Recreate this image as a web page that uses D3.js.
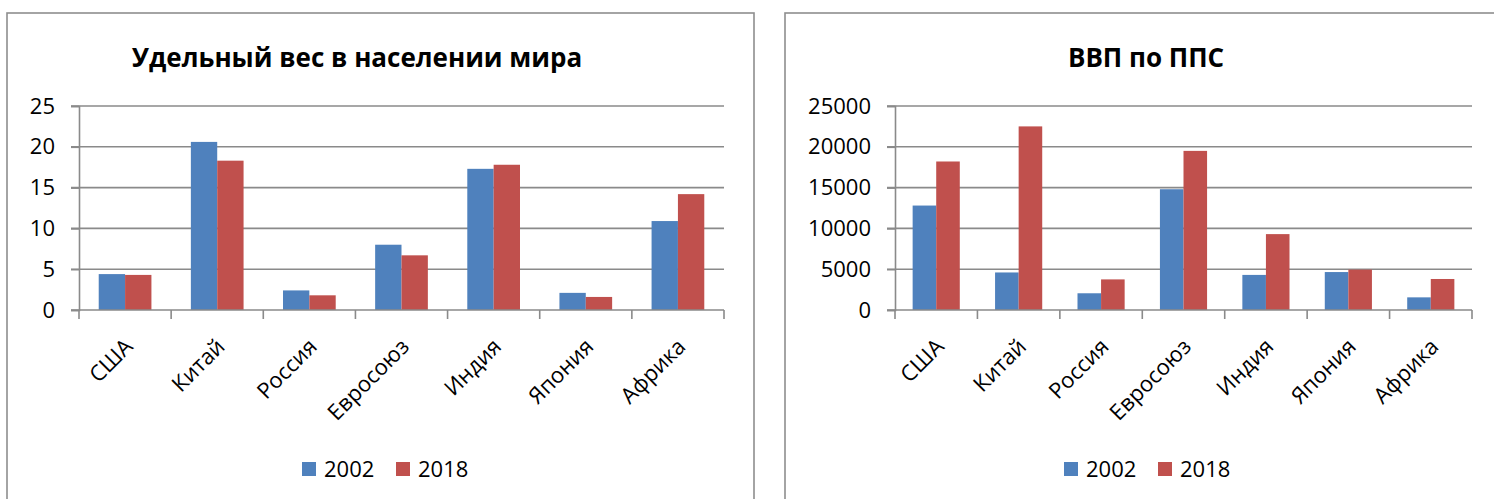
<!DOCTYPE html>
<html><head><meta charset="utf-8">
<script src="https://cdn.jsdelivr.net/npm/d3@7"></script>
<style>
html,body{margin:0;padding:0;background:#fff;}
svg{display:block;font-family:"Open Sans","Noto Sans",sans-serif;}
</style></head>
<body>
<svg id="c" width="1494" height="499"></svg>
<script>
const categories = ["США","Китай","Россия","Евросоюз","Индия","Япония","Африка"];
const seriesNames = ["2002","2018"];
const popShare2002 = [4.4, 20.6, 2.4, 8.0, 17.3, 2.1, 10.9];
const popShare2018 = [4.3, 18.3, 1.8, 6.7, 17.8, 1.6, 14.2];
const gdp2002 = [12800, 4600, 2050, 14800, 4300, 4650, 1550];
const gdp2018 = [18200, 22500, 3750, 19500, 9300, 4950, 3800];
const popTicks = [0, 5, 10, 15, 20, 25];
const gdpTicks = [0, 5000, 10000, 15000, 20000, 25000];
const titles = ["Удельный вес в населении мира", "ВВП по ППС"];
const colors = ["#4F81BD", "#C0504D"];

const svg = d3.select("#c");

function drawChart(cfg) {
  const g = svg.append("g");
  g.append("rect").attr("x", cfg.frame[0]).attr("y", cfg.frame[1])
    .attr("width", cfg.frame[2]).attr("height", cfg.frame[3])
    .attr("fill", "#fff").attr("stroke", "#8e8e8e").attr("stroke-width", 1.6);

  const x0 = d3.scaleBand().domain(cfg.categories).range([cfg.left, cfg.right]);
  const bw = x0.bandwidth() * 0.286;
  const y = d3.scaleLinear().domain([0, cfg.ticks[cfg.ticks.length-1]]).range([cfg.bottom, cfg.top]);

  g.append("g").selectAll("line").data(cfg.ticks.filter(t => t > 0)).join("line")
    .attr("x1", cfg.left - 8).attr("x2", cfg.right)
    .attr("y1", d => y(d)).attr("y2", d => y(d))
    .attr("stroke", "#8a8a8a").attr("stroke-width", 1.6);

  const ya = g.append("g").attr("transform", `translate(${cfg.left},0)`)
    .call(d3.axisLeft(y).tickValues(cfg.ticks).tickSize(8).tickPadding(cfg.tickPad).tickFormat(d3.format("d")));
  ya.select(".domain").attr("stroke", "#8a8a8a").attr("stroke-width", 1.6);
  ya.selectAll(".tick line").attr("stroke", "#8a8a8a").attr("stroke-width", 1.6);
  ya.selectAll("text").attr("font-size", 22).attr("fill", "#000").attr("font-family", "Open Sans");

  cfg.series.forEach((vals, si) => {
    g.append("g").selectAll("rect").data(vals).join("rect")
      .attr("x", (d, i) => x0(cfg.categories[i]) + x0.bandwidth()/2 - bw + si*bw)
      .attr("y", d => y(d))
      .attr("width", bw)
      .attr("height", d => cfg.bottom - y(d))
      .attr("fill", colors[si]);
  });

  g.append("line").attr("x1", cfg.left - 8).attr("x2", cfg.right)
    .attr("y1", cfg.bottom).attr("y2", cfg.bottom)
    .attr("stroke", "#8a8a8a").attr("stroke-width", 1.6);
  const bounds = cfg.categories.map(c => x0(c)).concat([cfg.right]);
  g.append("g").selectAll("line").data(bounds).join("line")
    .attr("x1", d => d).attr("x2", d => d)
    .attr("y1", cfg.bottom).attr("y2", cfg.bottom + 9)
    .attr("stroke", "#8a8a8a").attr("stroke-width", 1.6);

  g.append("g").selectAll("text").data(cfg.categories).join("text")
    .attr("transform", d => `translate(${x0(d) + x0.bandwidth()/2 + 9},${cfg.bottom + 38}) rotate(-45)`)
    .attr("text-anchor", "end")
    .attr("font-size", 22)
    .text(d => d);

  g.append("text").attr("x", cfg.titleX).attr("y", 67)
    .attr("text-anchor", "middle").attr("font-size", 26).attr("font-weight", "bold")
    .text(cfg.title);

  const lg = g.append("g");
  seriesNames.forEach((s, i) => {
    lg.append("rect").attr("x", cfg.legendX[i]).attr("y", 462).attr("width", 14).attr("height", 14).attr("fill", colors[i]);
    lg.append("text").attr("x", cfg.legendX[i] + 22).attr("y", 477).attr("font-size", 22).text(s);
  });
}

drawChart({
  frame: [7, 13, 747, 500],
  categories, series: [popShare2002, popShare2018], ticks: popTicks,
  left: 79, right: 724, top: 106, bottom: 310, tickPad: 16,
  title: titles[0], titleX: 357, legendX: [302, 396]
});
drawChart({
  frame: [785, 13, 720, 500],
  categories, series: [gdp2002, gdp2018], ticks: gdpTicks,
  left: 895, right: 1472, top: 106, bottom: 310, tickPad: 16,
  title: titles[1], titleX: 1146, legendX: [1064, 1158]
});
</script>
</body></html>
